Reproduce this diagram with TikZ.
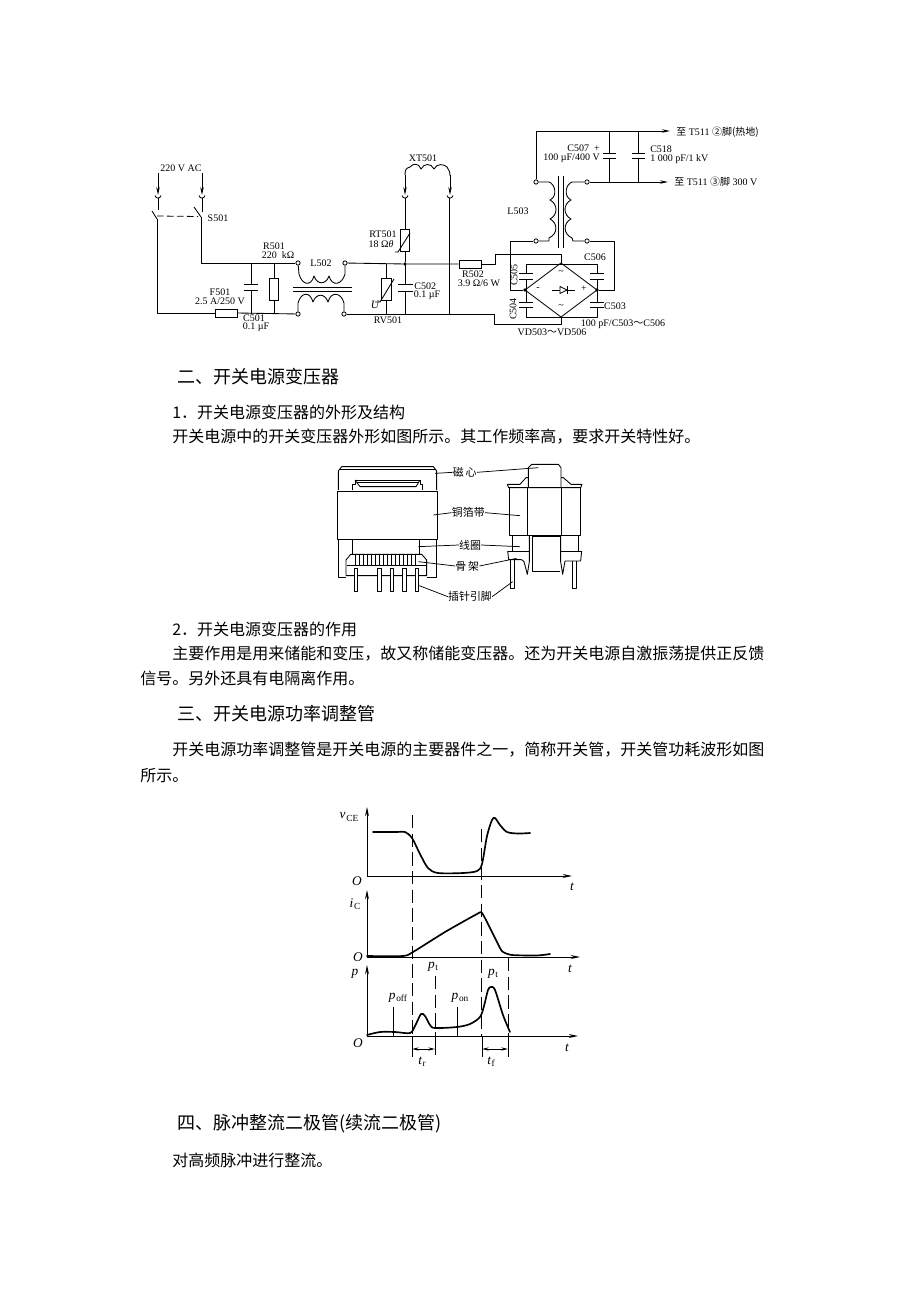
\documentclass[tikz,border=0pt]{standalone}
\usepackage{fontspec}
\setmainfont{Liberation Serif}
\newfontfamily\cjk{Noto Sans CJK SC}
\usetikzlibrary{arrows.meta}
\newcommand{\szs}{\fontsize{7.5}{8}\selectfont}
\newcommand{\szb}{\fontsize{12}{14}\selectfont}
\newcommand{\szh}{\fontsize{13.5}{16}\selectfont}
\newcommand{\szt}{\fontsize{8.2}{10}\selectfont}
\newcommand{\szw}{\fontsize{10}{12}\selectfont}
\newcommand{\lsub}[1]{\kern0.5pt\raisebox{-1.6pt}{\fontsize{7}{8}\selectfont #1}}
\tikzset{
 wire/.style={line width=0.65pt,line join=round},
 fine/.style={line width=0.55pt,line join=round},
 wave/.style={line width=1.25pt,line cap=round,line join=round},
 axis/.style={line width=0.75pt,-{Stealth[length=7pt,width=3pt]}},
 feed/.style={line width=0.7pt,-{Stealth[length=6pt,width=2.6pt]}},
 dashline/.style={line width=0.6pt,dash pattern=on 10pt off 4pt},
 term/.style={circle,draw,fill=white,line width=0.6pt,inner sep=0pt,minimum size=3.2pt},
 dotn/.style={circle,fill=black,inner sep=0pt,minimum size=2.8pt},
 part/.style={draw,fill=white,line width=0.65pt,inner sep=0pt},
 lab/.style={inner sep=0pt,font=\szs},
 para/.style={inner sep=0pt,anchor=west,font=\cjk\szb},
 head/.style={inner sep=0pt,anchor=west,font=\cjk\szh},
 tag/.style={inner sep=0pt,font=\cjk\szt},
 wlab/.style={inner sep=0pt,font=\szw\itshape},
}
\begin{document}
\begin{tikzpicture}[x=0.75pt,y=-0.75pt]
\useasboundingbox (0,0) rectangle (920,1302);
\fill[white] (0,0) rectangle (920,1302);

% ---------- text ----------
\node[head] (h2) at (177,377) {二、开关电源变压器};
\node[para] (t1) at (172,412) {1．开关电源变压器的外形及结构};
\node[para] (t2) at (172,437) {开关电源中的开关变压器外形如图所示。其工作频率高，要求开关特性好。};
\node[para] (t3) at (172,629) {2．开关电源变压器的作用};
\node[para] (t4) at (172,654) {主要作用是用来储能和变压，故又称储能变压器。还为开关电源自激振荡提供正反馈};
\node[para] (t5) at (140,678) {信号。另外还具有电隔离作用。};
\node[head] (h3) at (177,714) {三、开关电源功率调整管};
\node[para] (t6) at (172,750) {开关电源功率调整管是开关电源的主要器件之一，简称开关管，开关管功耗波形如图};
\node[para] (t7) at (140,776) {所示。};
\node[head] (h4) at (177,1124) {四、脉冲整流二极管(续流二极管)};
\node[para] (t8) at (172,1160) {对高频脉冲进行整流。};

% ---------- circuit: input ----------
\node[lab] (ac) at (181,168) {220 V AC};
\coordinate (inL) at (158,173); \coordinate (inR) at (202,173);
\coordinate (jL) at (158,195); \coordinate (jR) at (202,195);
\draw[feed] (inL) -- (jL);
\draw[feed] (inR) -- (jR);
\draw[wire] (155,195.5) .. controls (156,199) and (160,199) .. (161,195.5);
\draw[wire] (199,195.5) .. controls (200,199) and (204,199) .. (205,195.5);
\draw[wire] (158,198) -- (158,210);
\draw[wire] (202,198) -- (202,212);
\draw[wire] (152,211) -- (157,219);
\draw[wire] (194,207) -- (201,217);
\draw[line width=0.6pt,dash pattern=on 5pt off 2.5pt] (157,216) -- (198,216.5);
\node[lab] (s501) at (218,218) {S501};

\node[term] (a1) at (298,263) {};
\node[term] (a2) at (345,263) {};
\node[term] (b1) at (298,314) {};
\node[term] (b2) at (344,314) {};
\node[part,minimum width=16.5pt,minimum height=6pt] (fuse) at (226,313) {};
\coordinate (sw1) at (157,219); \coordinate (sw2) at (201,217);
\draw[wire] (sw1) |- (fuse.west);
\draw[wire] (fuse.east) -- (b1);
\draw[wire] (sw2) |- (a1);
\coordinate (c1t) at (251,263); \coordinate (c1b) at (251,313.5);
\draw[wire] (c1t) -- (251,284) (251,290) -- (c1b);
\draw[wire] (244,284) -- (258,284) (244,290) -- (258,290);
\node[part,minimum width=7pt,minimum height=16.5pt] (r501) at (274,289) {};
\draw[wire] (r501.north) -- (274,263) (r501.south) -- (274,314);
\node[lab] (l1) at (274,246) {R501};
\node[lab] (l2) at (278,255) {220 \ kΩ};
\node[lab] (l3) at (220,292) {F501};
\node[lab] (l4) at (220,301) {2.5 A/250 V};
\node[lab] (l5) at (254,318) {C501};
\node[lab] (l6) at (256,327) {0.1 µF};
\node[lab] (l7) at (321,263) {L502};

% L502
\draw[wire] (a1) -- (299,274) .. controls +(3,11) and +(-3,11) .. (314,276)
  .. controls +(3,9) and +(-3,9) .. (329,276) .. controls +(3,11) and +(-3,11) .. (345,274) -- (a2);
\draw[wire] (b1) -- (298,303) .. controls +(3,-11) and +(-3,-11) .. (313,302)
  .. controls +(3,-9) and +(-3,-9) .. (328,302) .. controls +(3,-11) and +(-3,-11) .. (344,303) -- (b2);
\draw[wire] (293,287) -- (352,287) (293,291) -- (352,291);

% right of L502
\node[part,minimum width=16.5pt,minimum height=6pt] (r502) at (470,264) {};
\node[dotn] (jn) at (405,264) {};
\draw[wire] (a2) -- (jn) -- (r502.west);
\coordinate (b3) at (494,314);
\draw[wire] (b2) -- (b3);
\node[part,minimum width=7.5pt,minimum height=16.5pt] (rv) at (386,289) {};
\draw[wire] (rv.north) -- (386,264) (rv.south) -- (386,314);
\draw[wire] (375,302) -- (380,302) -- (394,279);
\node[part,minimum width=6.5pt,minimum height=17pt] (rt) at (405,240.5) {};
\draw[wire] (rt.south) -- (jn);
\draw[wire] (395,252) -- (398,252) -- (410,233);
\draw[wire] (405,264) -- (405,284) (405,291) -- (405,314);
\draw[wire] (398,284) -- (413,284) (398,291) -- (413,291);
\node[lab] (l8) at (383,234) {RT501};
\node[lab] (l9) at (381,244) {18 Ω\textit{θ}};
\node[lab] (l10) at (424,286) {\ C502};
\node[lab] (l11) at (427,295) {0.1 µF};
\node[lab] (l12) at (388,320) {RV501};
\node[wlab] (l13) at (375,305) {\fontsize{8.5}{9}\selectfont U};
\node[lab] (l14) at (423,158) {XT501};

% XT501
\coordinate (xa) at (405,195); \coordinate (xb) at (450,195);
\draw[wire] (405,175) .. controls (405,170) and (406,168) .. (410,167)
  .. controls (413,163) and (419,163) .. (421,169) .. controls (424,163) and (431,163) .. (434,169)
  .. controls (437,163) and (444,164) .. (447,167) .. controls (449,170) and (450,172) .. (450,176);
\draw[feed] (405,175) -- (xa);
\draw[feed] (450,175) -- (xb);
\draw[wire] (402,195.5) .. controls (403,199) and (407,199) .. (408,195.5);
\draw[wire] (447,195.5) .. controls (448,199) and (452,199) .. (453,195.5);
\draw[wire] (405,198) -- (rt.north);
\draw[wire] (449,198) -- (449,314);

% to bridge
\coordinate (br) at (561,263); \coordinate (bl) at (525,290);
\coordinate (brr) at (597,290); \coordinate (bb) at (561,317);
\draw[wire] (r502.east) -- (495,264) -- (495,254) -- (561,254) -- (br);
\draw[wire] (b3) -- (494,324) -- (561,324) -- (bb);
\draw[wire] (br) -- (brr) -- (bb) -- (bl) -- cycle;
\node[dotn] (nl) at (bl) {};
\node[dotn] (nr) at (brr) {};
% bridge caps
\draw[wire] (526,279) -- (526,290) (526,273) -- (526,264) -- (597,264) -- (597,273) (597,279) -- (597,290);
\draw[wire] (526,290) -- (526,302) (526,307) -- (526,317) -- (597,317) -- (597,307) (597,302) -- (597,290);
\draw[wire] (519,273) -- (533,273) (519,279) -- (533,279) (519,302) -- (533,302) (519,307) -- (533,307);
\draw[wire] (590,273) -- (604,273) (590,279) -- (604,279) (590,302) -- (604,302) (590,307) -- (604,307);
% diode
\coordinate (d1) at (552,290); \coordinate (d2) at (575,290);
\draw[wire] (d1) -- (d2);
\draw[wire,fill=white] (560,286.5) -- (560,293.5) -- (567,290) -- cycle;
\draw[wire] (567,286) -- (567,294);
\node[lab] (s1) at (561,272) {\textasciitilde};
\node[lab] (s2) at (561,306) {\textasciitilde};
\node[lab] (s3) at (538,289) {-};
\node[lab] (s4) at (584,289) {+};
\node[lab,rotate=90] (l15) at (514,275) {C505};
\node[lab,rotate=90] (l16) at (513,309) {C504};
\node[lab] (l17) at (595,257) {C506};
\node[lab] (l18) at (615,306) {C503};
\node[lab] (l19) at (623,324) {100 pF/C503{\cjk～}C506};
\node[lab] (l20) at (552,332) {VD503{\cjk～}VD506};
\node[lab] (l21) at (473,274) {R502};
\node[lab] (l22) at (479,283) {3.9 Ω/6 W};

% L503
\node[term] (t11) at (536,182) {};
\node[term] (t12) at (536,241) {};
\node[term] (t21) at (587,182) {};
\node[term] (t22) at (587,241) {};
\draw[wire] (t11) -- (549,182) .. controls (555,184) and (558,196) .. (550,200)
  .. controls (558,204) and (558,215) .. (550,219) .. controls (558,223) and (558,234) .. (549,238) -- (549,241) -- (t12);
\draw[wire] (t21) -- (572,182) .. controls (566,184) and (563,196) .. (571,200)
  .. controls (563,204) and (563,215) .. (571,219) .. controls (563,223) and (563,234) .. (572,238) -- (573,241) -- (t22);
\draw[wire] (558,176) -- (558,248) (563,176) -- (563,248);
\node[lab] (l23) at (518,211) {L503};
\coordinate (e1) at (670,131); \coordinate (e2) at (668,182);
\draw[wire] (t11) -- (536,131);
\draw[feed] (536,131) -- (e1);
\draw[feed] (t21) -- (e2);
\draw[wire] (t12) -- (510,241) -- (510,290) -- (nl);
\draw[wire] (t22) -- (614,241) -- (614,290) -- (nr);
\draw[wire] (609,131) -- (609,153) (609,158) -- (609,182);
\draw[wire] (603,153) -- (616,153) (603,158) -- (616,158);
\draw[wire] (638,131) -- (638,153) (638,158) -- (638,182);
\draw[wire] (632,153) -- (645,153) (632,158) -- (645,158);
\node[lab,anchor=east] (l24) at (600,148) {C507 \ +};
\node[lab,anchor=east] (l25) at (600,158) {100 µF/400 V};
\node[lab,anchor=west] (l26) at (650,149) {C518};
\node[lab,anchor=west] (l27) at (650,159) {1 000 pF/1 kV};
\node[lab,anchor=west] (l28) at (676,132) {{\cjk 至} T511 {\cjk ②脚(热地)}};
\node[lab,anchor=west] (l29) at (674,182) {{\cjk 至} T511 {\cjk ③脚} 300 V};

% ---------- transformer ----------
\begin{scope}[shift={(320,455)},x=0.25pt,y=-0.25pt]
 \draw[wire] (55,105) -- (55,48) -- (65,35) -- (340,35) -- (350,48) -- (350,105);
 \draw[wire] (60,42) -- (345,42);
 \draw[wire] (97,105) -- (97,88) -- (105,88) -- (105,75) -- (300,75) -- (300,88) -- (308,88) -- (308,105);
 \draw[wire] (105,75) -- (120,95) -- (288,95) -- (300,75);
 \draw[wire] (112,82) -- (293,82);
 \draw[wire] (52,108) rectangle (352,253);
 \draw[wire] (55,253) -- (55,368) -- (78,368);
 \draw[wire] (350,253) -- (350,368) -- (320,368);
 \draw[wire] (97,253) -- (97,298) (298,253) -- (298,298);
 \draw[wire] (78,362) -- (78,315) -- (92,298) -- (305,298) -- (320,315) -- (320,362) -- (78,362);
 \draw[wire] (80,332) -- (320,332);
 \foreach \h in {105,117,...,295} \draw[fine] (\h,300) -- (\h,330);
 \foreach \h in {107,178,215,253,290} {
  \draw[wire,fill=white] (\h-5,340) -- (\h-5,408) -- (\h+5,408) -- (\h+5,340) -- cycle;
 }
 % side view
 \draw[wire] (625,98) -- (625,38) -- (635,28) -- (715,28) -- (723,38) -- (723,98);
 \draw[wire] (562,88) -- (566,98) -- (782,98) -- (786,88) -- (753,88) -- (730,68) -- (723,68);
 \draw[wire] (562,88) -- (600,88) -- (618,68) -- (625,68);
 \draw[wire] (567,98) -- (567,240) -- (780,240) -- (780,98);
 \draw[wire] (623,98) -- (623,240) (725,98) -- (725,240);
 \draw[wire] (578,240) -- (578,288) (775,240) -- (775,288);
 \draw[wire] (563,288) -- (628,288) (722,288) -- (785,288);
 \draw[wire] (563,288) -- (566,314) -- (605,314) -- (612,320) -- (622,358) -- (628,320) -- (628,240);
 \draw[wire] (785,288) -- (782,318) -- (735,318) -- (728,358) -- (722,320) -- (722,240);
 \draw[wire] (637,245) -- (637,350) -- (720,350) (720,245) -- (637,245);
 \draw[wire] (582,314) -- (582,400) -- (572,400) -- (572,314);
 \draw[wire] (768,318) -- (768,400) -- (757,400) -- (757,318);
 % labels and leaders
 \node[tag] (c1) at (434,52) {磁\,心};
 \node[tag] (c2) at (445,173) {铜箔带};
 \node[tag] (c3) at (450,270) {线圈};
 \node[tag] (c4) at (442,333) {骨\,架};
 \node[tag] (c5) at (450,425) {插针引脚};
 \draw[fine] (c1.west) -- (345,55);
 \draw[fine] (c1.east) -- (655,38);
 \draw[fine] (c2.west) -- (340,180);
 \draw[fine] (c2.east) -- (600,182);
 \draw[fine] (c3.west) -- (295,275);
 \draw[fine] (c3.east) -- (600,275);
 \draw[fine] (c4.west) -- (295,320);
 \draw[fine] (c4.east) -- (590,310);
 \draw[fine] (c5.west) -- (298,392);
 \draw[fine] (c5.east) -- (578,380);
\end{scope}

% ---------- waveforms ----------
\coordinate (o1) at (367,876); \coordinate (o2) at (367,957); \coordinate (o3) at (367,1036);
\draw[axis] (o1) -- (367,807);
\draw[axis] (o1) -- (572,876);
\draw[axis] (o2) -- (367,890);
\draw[axis] (o2) -- (580,957);
\draw[axis] (o3) -- (367,965);
\draw[axis] (o3) -- (578,1036);
\draw[wave] plot[smooth,tension=.5] coordinates {(373,832) (396,832) (405,832) (412,838) (420,854) (428,868) (438,873) (463,873) (477,871) (482,864) (487,836) (492,820) (495,818) (500,825) (507,832) (518,833.5) (530,833)};
\draw[wave] plot[smooth,tension=.4] coordinates {(367,956) (403,956) (413,952) (445,932) (477,914) (482,913) (491,930) (500,948) (503,952) (512,955) (537,955.5) (550,954)};
\draw[wave] plot[smooth,tension=.5] coordinates {(367,1035) (380,1032) (395,1032) (410,1033) (415,1026) (421,1014) (425,1016) (430,1025) (435,1028) (457,1027) (470,1024) (480,1017) (484,1006) (488,990) (491,987) (495,990) (503,1015) (510,1032)};
\draw[dashline] (412,815) -- (412,1036);
\draw[dashline] (481.5,829) -- (481.5,1036);
\draw[dashline] (435,976) -- (435,1036);
\draw[dashline] (508,958) -- (508,1036);
\draw[wire] (412,1036) -- (412,1057) (435,1036) -- (435,1055) (482,1036) -- (482,1057) (508,1036) -- (508,1057);
\draw[wire] (393,1007) -- (393,1036) (457,1007) -- (457,1036);
\draw[line width=0.6pt,{Stealth[length=5pt,width=2.4pt]}-{Stealth[length=5pt,width=2.4pt]}] (412,1049) -- (435,1049);
\draw[line width=0.6pt,{Stealth[length=5pt,width=2.4pt]}-{Stealth[length=5pt,width=2.4pt]}] (482,1049) -- (508,1049);
\node[wlab] (w1) at (349,817) {v\lsub{\upshape CE}};
\node[wlab] (w2) at (357,881) {O};
\node[wlab] (w3) at (572,887) {t};
\node[wlab] (w4) at (355,904) {i\lsub{\upshape C}};
\node[wlab] (w5) at (358,957) {O};
\node[wlab] (w6) at (570,969) {t};
\node[wlab] (w7) at (355,974) {p};
\node[wlab] (w8) at (433,967) {p\lsub{\upshape t}};
\node[wlab] (w9) at (493,974) {p\lsub{\upshape t}};
\node[wlab] (w10) at (398,998) {p\lsub{\upshape off}};
\node[wlab] (w11) at (460,998) {p\lsub{\upshape on}};
\node[wlab] (w12) at (358,1043) {O};
\node[wlab] (w13) at (567,1048) {t};
\node[wlab] (w14) at (422,1062) {t\lsub{\upshape r}};
\node[wlab] (w15) at (491,1062) {t\lsub{\upshape f}};
\end{tikzpicture}
\end{document}
